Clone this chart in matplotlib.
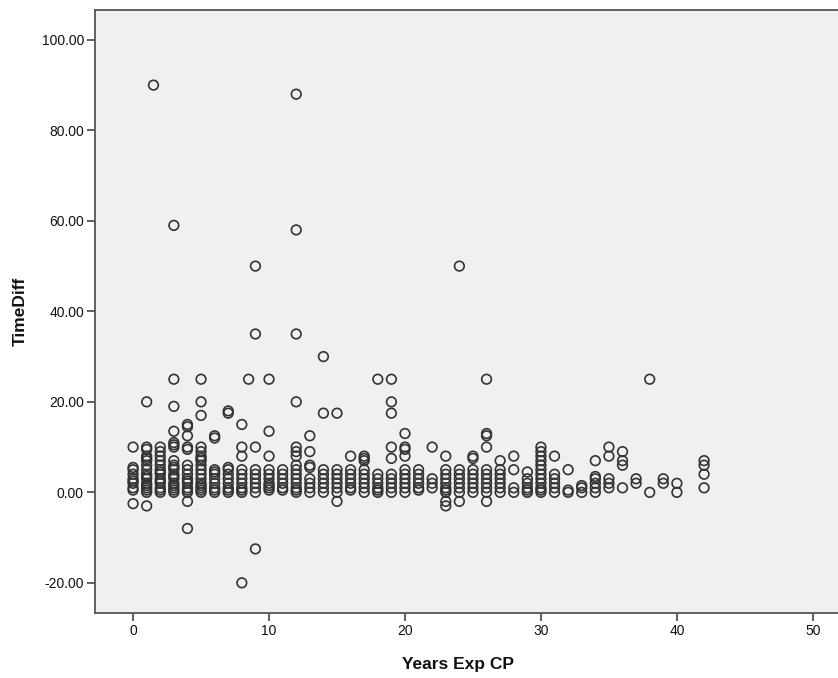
import matplotlib
matplotlib.use("Agg")
import matplotlib.pyplot as plt
import numpy as np

# Years Exp CP -> TimeDiff values observed at that x
years = [0, 1, 1.5, 2, 3, 4, 5, 6, 7, 8, 8.5, 9, 10, 11, 12, 13, 14, 15, 16, 17,
         18, 19, 20, 21, 22, 23, 24, 25, 26, 27, 28, 29, 30, 31, 32, 33, 34, 35,
         36, 37, 38, 39, 40, 42]
timediff = [
    [10, 5.5, 5, 4, 3, 2.5, 2, 1, 0.5, -2.5],
    [20, 10, 9.5, 8, 7.5, 7, 6, 5, 4, 3.5, 3, 2, 1.5, 1, 0.5, 0, -3],
    [90],
    [10, 9, 8, 7, 6, 5, 4.5, 4, 3, 2.5, 2, 1, 0.5, 0],
    [59, 25, 19, 13.5, 11, 10.5, 10, 7, 6, 5.5, 5, 4, 3.5, 3, 2, 1.5, 1, 0.5, 0],
    [15, 14.5, 12.5, 10, 9.5, 6, 5, 4, 3, 2.5, 2, 1, 0.5, 0, -2, -8],
    [25, 20, 17, 10, 9, 8, 7.5, 7, 6, 5, 4, 3, 2, 1.5, 1, 0.5, 0],
    [12.5, 12, 5, 4.5, 4, 3, 2, 1, 0.5, 0],
    [18, 17.5, 5.5, 5, 4, 3, 2, 1, 0.5, 0],
    [15, 10, 8, 5, 4, 3, 2, 1, 0.5, 0, -20],
    [25],
    [50, 35, 10, 5, 4, 3, 2, 1, 0, -12.5],
    [25, 13.5, 8, 5, 4, 3, 2, 1.5, 1, 0.5],
    [5, 4, 3, 2, 1, 0.5],
    [88, 58, 35, 20, 10, 9, 8, 6, 5, 4, 3, 2, 1, 0.5, 0],
    [12.5, 9, 6, 5.5, 3, 2, 1, 0],
    [30, 17.5, 5, 4, 3, 2, 1, 0],
    [17.5, 5, 4, 3, 2, 1, 0, -2],
    [8, 5, 4, 3, 2, 1, 0.5],
    [8, 7.5, 7, 5, 4, 3, 2, 1, 0],
    [25, 4, 3, 2, 1, 0.5, 0],
    [25, 20, 17.5, 10, 7.5, 4, 3, 2, 1, 0],
    [13, 10, 9.5, 8, 5, 4, 3, 2, 1, 0],
    [5, 4, 3, 2, 1, 0.5],
    [10, 3, 2, 1],
    [8, 5, 4, 3, 2, 1, 0.5, 0, -2, -3],
    [50, 5, 4, 3, 2, 1, 0, -2],
    [8, 7.5, 5, 4, 3, 2, 1, 0],
    [25, 13, 12.5, 10, 5, 4, 3, 2, 1, 0, -2],
    [7, 5, 4, 3, 2, 1, 0],
    [8, 5, 1, 0],
    [4.5, 3, 2, 1, 0.5, 0],
    [10, 9, 8, 7, 6, 5, 4, 3, 2, 1, 0.5, 0],
    [8, 4, 3, 2, 1, 0],
    [5, 0.5, 0],
    [1.5, 1, 0],
    [7, 3.5, 3, 2, 1, 0],
    [10, 8, 3, 2, 1],
    [9, 7, 6, 1],
    [3, 2],
    [25, 0],
    [3, 2],
    [2, 0],
    [7, 6, 4, 1],
]
x_ticks = [0, 10, 20, 30, 40, 50]
y_ticks = [-20, 0, 20, 40, 60, 80, 100]

xs, ys = [], []
for yr, vals in zip(years, timediff):
    for v in vals:
        xs.append(yr)
        ys.append(v)

plt.rcParams['font.family'] = ['Liberation Sans Narrow', 'Liberation Sans', 'DejaVu Sans']

W, H = 838, 678
fig = plt.figure(figsize=(W / 100, H / 100), dpi=100)
fig.patch.set_facecolor('white')
left, right, top, bottom = 95, 838, 10, 612.7
ax = fig.add_axes([left / W, (H - bottom) / H, (right - left) / W, (bottom - top) / H])
ax.set_facecolor('#f0f0f0')

ax.scatter(xs, ys, s=48, facecolors='none', edgecolors='#333333', linewidths=1.2, zorder=3)

ax.set_xlim(-2.8, 51.85)
ax.set_ylim(-26.6, 106.6)
ax.set_xticks(x_ticks)
ax.set_yticks(y_ticks)
ax.set_yticklabels([f"{v:.2f}" for v in y_ticks])
ax.tick_params(direction='out', length=6, width=1.2, color='#444444',
               labelsize=10, labelcolor='#111111', pad=2)

for s in ['left', 'bottom', 'top']:
    ax.spines[s].set_color('#555555')
    ax.spines[s].set_linewidth(1.3)
ax.spines['right'].set_visible(False)

fig.text(458 / W, 1 - 665 / H, 'Years Exp CP', ha='center', va='center',
         fontsize=12.5, fontweight='bold', color='#111111')
fig.text(20 / W, 1 - 311 / H, 'TimeDiff', ha='center', va='center', rotation=90,
         fontsize=12.5, fontweight='bold', color='#111111')

fig.savefig('out.png', dpi=100, facecolor='white')
